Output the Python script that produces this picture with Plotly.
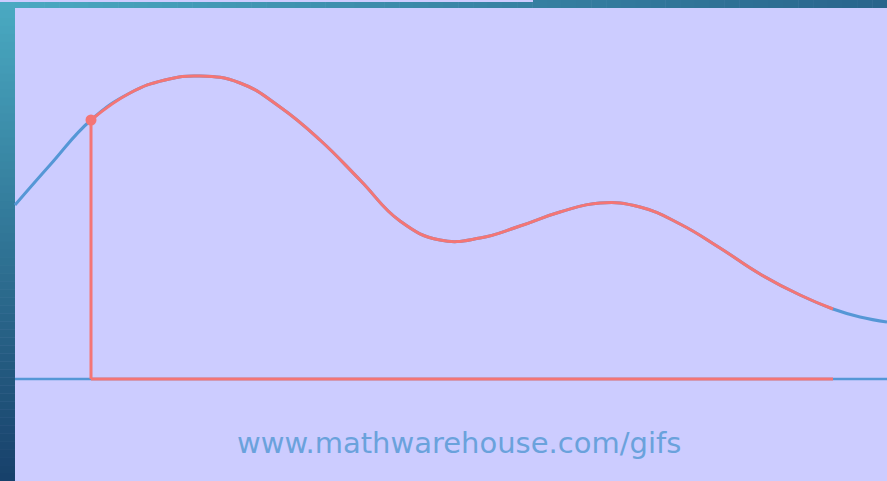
import plotly.graph_objects as go

# Curve samples (pixel-space data)
curve_x = [15, 50, 91, 130, 165, 200, 240, 280, 320, 360, 400, 440, 480,
           520, 560, 600, 640, 680, 720, 760, 800, 833, 860, 887]
curve_y = [205, 165, 120, 93, 80, 76, 83, 107, 140, 180, 221, 240, 238,
           226, 212, 203, 207, 224, 248, 274, 295, 309, 317, 322]
x_start = 91
x_end = 833
baseline_y = 379
axis_x = [15, 887]
label = "www.mathwarehouse.com/gifs"

BLUE = "#5597d6"
RED = "#f47575"
BG = "#ccccff"

red_x = [x for x in curve_x if x_start <= x <= x_end]
red_y = [y for x, y in zip(curve_x, curve_y) if x_start <= x <= x_end]
start_y = curve_y[curve_x.index(x_start)]

SMOOTH = 1.3
fig = go.Figure()
fig.add_trace(go.Scatter(x=axis_x, y=[baseline_y, baseline_y], mode="lines",
                         line=dict(color=BLUE, width=2.5), hoverinfo="skip"))
fig.add_trace(go.Scatter(x=curve_x, y=curve_y, mode="lines",
                         line=dict(color=BLUE, width=3, shape="spline", smoothing=SMOOTH),
                         hoverinfo="skip"))
fig.add_trace(go.Scatter(x=red_x, y=red_y, mode="lines",
                         line=dict(color=RED, width=3, shape="spline", smoothing=SMOOTH),
                         hoverinfo="skip"))
fig.add_trace(go.Scatter(x=[x_start, x_end], y=[baseline_y, baseline_y], mode="lines",
                         line=dict(color=RED, width=3), hoverinfo="skip"))
fig.add_trace(go.Scatter(x=[x_start, x_start], y=[start_y, baseline_y], mode="lines",
                         line=dict(color=RED, width=3), hoverinfo="skip"))
fig.add_trace(go.Scatter(x=[x_start], y=[start_y], mode="markers",
                         marker=dict(color=RED, size=11), hoverinfo="skip"))

# gradient borders built from thin bands
def lerp(c1, c2, t):
    a = [int(c1[i:i+2], 16) for i in (1, 3, 5)]
    b = [int(c2[i:i+2], 16) for i in (1, 3, 5)]
    return "rgb(%d,%d,%d)" % tuple(round(a[k] + (b[k] - a[k]) * t) for k in range(3))

shapes = []
N = 60
for i in range(N):
    y0 = 2 + (481 - 2) * i / N
    y1 = 2 + (481 - 2) * (i + 1) / N + 0.5
    shapes.append(dict(type="rect", xref="x", yref="y", x0=0, x1=15, y0=y0, y1=y1,
                       line=dict(width=0), fillcolor=lerp("#4aaac2", "#17406a", (i + 0.5) / N),
                       layer="below"))
for i in range(N):
    x0 = 887 * i / N
    x1 = 887 * (i + 1) / N + 0.5
    shapes.append(dict(type="rect", xref="x", yref="y", x0=x0, x1=x1, y0=0, y1=8,
                       line=dict(width=0), fillcolor=lerp("#4aaac2", "#28648c", (i + 0.5) / N),
                       layer="below"))
shapes.append(dict(type="rect", xref="x", yref="y", x0=0, x1=533, y0=0, y1=2,
                   line=dict(width=0), fillcolor=BG, layer="below"))

fig.update_layout(
    width=887, height=481,
    margin=dict(l=0, r=0, t=0, b=0),
    paper_bgcolor=BG, plot_bgcolor=BG,
    showlegend=False,
    shapes=shapes,
    xaxis=dict(range=[0, 887], visible=False, fixedrange=True),
    yaxis=dict(range=[481, 0], visible=False, fixedrange=True),
    annotations=[dict(text=label, x=459, y=443, xref="x", yref="y", showarrow=False,
                      font=dict(family="DejaVu Sans", size=29, color="#6aa2dc"))],
)

fig.write_html("out.html", config={"displayModeBar": False},
               post_script="document.body.style.margin='0';document.body.style.overflow='hidden';")
